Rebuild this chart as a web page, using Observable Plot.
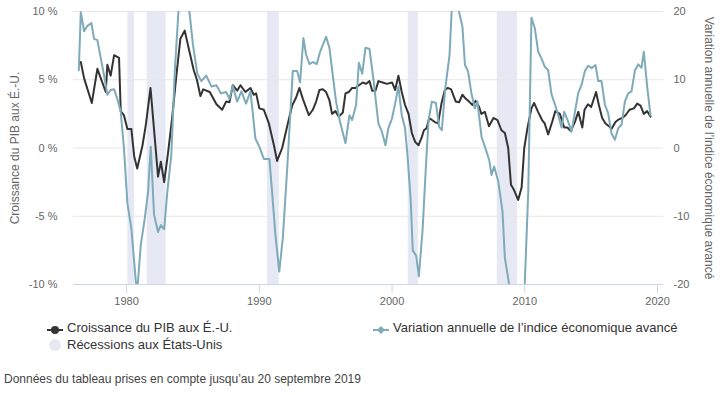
<!DOCTYPE html>
<html>
<head>
<meta charset="utf-8">
<script src="https://cdn.jsdelivr.net/npm/d3@7"></script>
<script src="https://cdn.jsdelivr.net/npm/@observablehq/plot@0.6"></script>
<style>
  html, body { margin: 0; padding: 0; background: #fff; }
  #wrap { position: relative; width: 720px; height: 395px; font-family: "Liberation Sans", Arial, sans-serif; }
  .leg { position: absolute; font-size: 13px; line-height: 16px; color: #333; white-space: nowrap; }
  .sym { position: absolute; }
  #caption { position: absolute; left: 4px; top: 372px; font-size: 12px; line-height: 15px; color: #444; white-space: nowrap; }
</style>
</head>
<body>
<div id="wrap"></div>
<script>
// ---- Data ----
const gdpYears = [1976.55,1976.8,1977.38,1977.8,1978.43,1978.55,1978.8,1979.06,1979.43,1979.56,1979.8,1980.06,1980.36,1980.57,1980.8,1981.2,1981.45,1981.8,1982.37,1982.58,1982.83,1983.13,1983.43,1983.75,1984.05,1984.38,1984.68,1985.06,1985.3,1985.56,1985.77,1986.27,1986.77,1987.2,1987.5,1987.75,1988.0,1988.33,1988.58,1988.95,1989.33,1989.58,1989.76,1990.0,1990.34,1990.72,1991.1,1991.34,1991.72,1992.1,1992.47,1992.77,1993.02,1993.28,1993.73,1994.03,1994.28,1994.53,1994.78,1995.03,1995.28,1995.48,1995.73,1995.99,1996.29,1996.49,1996.74,1996.99,1997.24,1997.5,1997.8,1998.05,1998.3,1998.5,1998.75,1998.97,1999.3,1999.6,2000.0,2000.23,2000.48,2000.73,2000.98,2001.24,2001.49,2001.74,2001.99,2002.24,2002.4,2002.6,2002.8,2003.22,2003.47,2003.73,2003.98,2004.2,2004.45,2004.8,2005.05,2005.3,2005.56,2005.8,2006.06,2006.3,2006.56,2006.73,2006.99,2007.3,2007.64,2007.94,2008.24,2008.5,2008.75,2008.96,2009.2,2009.5,2009.76,2009.96,2010.2,2010.5,2010.7,2011.0,2011.3,2011.5,2011.76,2012.06,2012.3,2012.64,2012.97,2013.2,2013.47,2013.77,2014.03,2014.33,2014.5,2014.76,2015.0,2015.37,2015.58,2015.83,2016.08,2016.34,2016.53,2016.83,2017.09,2017.34,2017.59,2017.89,2018.22,2018.47,2018.72,2018.97,2019.22,2019.47];
const gdpValues = [6.3,5.1,3.3,5.8,4.1,6.1,5.3,6.8,6.6,2.7,2.4,1.4,1.4,-0.6,-1.5,0.2,1.7,4.4,-2.1,-1.0,-2.5,-0.3,2.2,5.3,8.0,8.6,7.3,5.7,5.0,3.8,4.3,4.1,3.2,2.8,3.4,3.35,4.6,4.2,4.6,4.1,4.4,3.9,4.0,2.9,2.8,1.8,0.2,-0.95,0.0,1.6,3.1,3.7,4.4,3.6,2.4,2.8,3.4,4.25,4.3,4.1,3.5,2.5,2.7,2.3,2.6,4.0,4.1,4.4,4.4,4.6,4.8,4.7,4.9,4.2,4.2,4.9,4.8,4.7,4.8,4.25,5.3,4.1,3.15,2.5,1.1,0.45,0.2,0.8,1.3,1.45,2.2,1.9,1.8,3.3,4.25,4.4,4.3,3.4,3.35,3.9,3.6,3.4,3.15,3.45,3.0,2.5,2.65,1.6,2.2,2.05,1.3,1.1,0.0,-2.7,-3.1,-3.8,-2.9,0.0,1.45,2.9,3.3,2.65,2.05,1.8,1.0,1.9,2.7,2.5,1.5,1.5,1.25,1.9,2.65,1.5,2.8,3.2,3.0,4.1,3.15,2.2,1.8,1.6,1.4,1.9,2.1,2.2,2.4,2.8,2.9,3.25,3.1,2.5,2.7,2.3];

const leiYears = [1976.4,1976.55,1976.8,1977.05,1977.35,1977.55,1977.8,1978.06,1978.3,1978.55,1978.8,1979.06,1979.3,1979.56,1979.8,1980.06,1980.36,1980.78,1981.07,1981.37,1981.62,1981.82,1982.07,1982.37,1982.58,1982.83,1983.07,1983.37,1983.63,1984.0,1984.4,1984.76,1985.0,1985.33,1985.63,1986.0,1986.4,1986.77,1987.1,1987.5,1987.75,1988.0,1988.33,1988.65,1989.0,1989.33,1989.5,1989.7,1990.0,1990.34,1990.76,1990.96,1991.21,1991.5,1991.77,1992.1,1992.52,1992.85,1993.07,1993.32,1993.52,1993.78,1994.03,1994.33,1994.58,1995.03,1995.28,1995.53,1995.78,1996.08,1996.49,1996.79,1996.99,1997.29,1997.5,1997.75,1998.0,1998.3,1998.6,1998.97,1999.23,1999.5,1999.72,2000.0,2000.23,2000.48,2000.73,2000.98,2001.16,2001.4,2001.56,2001.82,2002.02,2002.3,2002.55,2002.75,2003.0,2003.3,2003.55,2003.75,2004.0,2004.33,2004.5,2004.75,2004.98,2005.3,2005.49,2005.73,2005.98,2006.24,2006.43,2006.74,2006.99,2007.32,2007.49,2007.69,2008.0,2008.32,2008.5,2008.75,2009.1,2009.5,2009.8,2010.0,2010.26,2010.5,2010.76,2011.01,2011.26,2011.51,2011.76,2012.01,2012.27,2012.52,2012.77,2012.97,2013.27,2013.52,2013.78,2014.02,2014.27,2014.53,2014.78,2015.03,2015.33,2015.53,2015.78,2016.04,2016.28,2016.53,2016.79,2017.04,2017.29,2017.54,2017.79,2018.04,2018.3,2018.55,2018.79,2018.97,2019.22,2019.47];
const leiValues = [11.4,19.9,17.1,17.9,18.3,16.0,15.8,13.1,10.7,7.8,8.5,8.6,7.2,5.3,0.0,-8.1,-11.8,-21.5,-14.2,-10.3,-6.4,0.2,-9.8,-12.3,-11.3,-11.9,-6.4,-1.0,11.2,23,24,19.5,15.1,10.9,9.8,10.6,9.0,9.2,8.0,8.2,7.2,9.1,6.8,8.3,6.5,8.3,5.3,1.4,0.2,-1.6,-1.6,-6.4,-12.7,-18.1,-13.2,-3.0,11.3,11.3,9.6,16.1,13.7,12.3,12.6,12.3,14.1,16.3,14.7,10.7,6.8,3.85,0.7,4.8,4.1,6.3,12.5,10.9,14.7,14.5,10.0,3.6,2.4,0.4,2.9,4.35,6.5,9.0,4.8,2.9,-1.0,-7.5,-15.0,-15.8,-18.8,-12.0,-2.7,4.1,6.8,6.6,3.1,2.6,8.6,13.6,20.5,24,20.5,17.8,12.2,11.2,8.0,5.8,6.8,1.65,0.2,-1.75,-3.95,-2.7,-4.9,-9.3,-16.1,-19.1,-24,-26,-24,-19.8,-6.4,19.1,17.5,14.1,13.1,11.9,11.4,7.9,6.4,4.8,3.0,5.3,3.85,2.4,5.3,8.0,9.2,11.3,12.05,11.7,12.15,9.8,9.8,6.3,5.1,2.15,1.2,2.9,3.4,6.8,8.0,8.3,11.4,12.25,11.75,14.1,9.0,4.8];

const recessionStart = [1980.1, 1981.55, 1990.62, 2001.22, 2007.93];
const recessionEnd   = [1980.6, 1982.98, 1991.5, 2001.98, 2009.45];

const xTicks = [1980, 1990, 2000, 2010, 2020];
const leftTicks = [-10, -5, 0, 5, 10];
const rightTicks = [-20, -10, 0, 10, 20];

const gdpLabel = "Croissance du PIB aux É.-U.";
const leiLabel = "Variation annuelle de l’indice économique avancé";
const recLabel = "Récessions aux États-Unis";
const captionText = "Données du tableau prises en compte jusqu’au 20 septembre 2019";

// ---- Tables ----
const gdp = gdpYears.map((y, i) => ({year: y, value: gdpValues[i]}));
const lei = leiYears.map((y, i) => ({year: y, value: leiValues[i]}));
const recessions = recessionStart.map((s, i) => ({start: s, end: recessionEnd[i]}));

const gdpColor = "#333333";
const leiColor = "#7eaab9";
const recColor = "#e6e9f4";

const chart = Plot.plot({
  width: 720,
  height: 306,
  marginTop: 11,
  marginBottom: 22,
  marginLeft: 73,
  marginRight: 57,
  style: {fontFamily: '"Liberation Sans", Arial, sans-serif', fontSize: "11px", color: "#666", background: "#fff", overflow: "visible"},
  x: {domain: [1976, 2020.45]},
  y: {domain: [-10, 10]},
  marks: [
    Plot.rect(recessions, {x1: "start", x2: "end", fill: recColor}),
    Plot.gridY(leftTicks, {stroke: "#e6e6e6", strokeOpacity: 1}),
    Plot.line(gdp, {x: "year", y: "value", stroke: gdpColor, strokeWidth: 2, clip: true}),
    Plot.line(lei, {x: "year", y: d => d.value / 2, stroke: leiColor, strokeWidth: 2, clip: true}),
    Plot.ruleY([-10], {stroke: "#ccd6eb", strokeWidth: 1}),
    Plot.axisX(xTicks, {anchor: "bottom", tickSize: 9, tickPadding: 4, stroke: "#ccd6eb", fill: "#666", fontSize: 11, tickFormat: d => String(d), label: null}),
    Plot.axisY(leftTicks, {anchor: "left", tickSize: 0, tickPadding: 16, fill: "#666", fontSize: 11, tickFormat: d => `${d} %`, label: null}),
    Plot.axisY(rightTicks.map(d => d / 2), {anchor: "right", tickSize: 0, tickPadding: 10, fill: "#666", fontSize: 11, tickFormat: d => String(d * 2), label: null}),
    Plot.text([gdpLabel], {frameAnchor: "left", textAnchor: "middle", dx: -58, rotate: -90, fill: "#666", fontSize: 12}),
    Plot.text([leiLabel], {frameAnchor: "right", textAnchor: "middle", dx: 45, rotate: 90, fill: "#666", fontSize: 12})
  ]
});

const wrap = document.getElementById("wrap");
wrap.appendChild(chart);
chart.style.position = "absolute";
chart.style.left = "0px";
chart.style.top = "0px";

// ---- Legend ----
function addLegend(text, left, top) {
  const d = document.createElement("div");
  d.className = "leg";
  d.style.left = left + "px";
  d.style.top = top + "px";
  d.textContent = text;
  wrap.appendChild(d);
}
function addSym(html, left, top) {
  const s = document.createElement("div");
  s.className = "sym";
  s.style.left = left + "px";
  s.style.top = top + "px";
  s.innerHTML = html;
  wrap.appendChild(s);
}
addSym(`<svg width="18" height="12"><line x1="1" y1="6" x2="17" y2="6" stroke="${gdpColor}" stroke-width="2"/><circle cx="9" cy="6" r="4" fill="${gdpColor}"/></svg>`, 46, 322);
addLegend(gdpLabel, 67, 320);
addSym(`<svg width="18" height="12"><line x1="1" y1="6" x2="17" y2="6" stroke="${leiColor}" stroke-width="2"/><path d="M9,2 L13,6 L9,10 L5,6 Z" fill="${leiColor}"/></svg>`, 372, 322);
addLegend(leiLabel, 393, 320);
addSym(`<svg width="18" height="14"><circle cx="9" cy="7" r="6" fill="${recColor}"/></svg>`, 46, 338);
addLegend(recLabel, 67, 337);

const cap = document.createElement("div");
cap.id = "caption";
cap.textContent = captionText;
wrap.appendChild(cap);
</script>
</body>
</html>
